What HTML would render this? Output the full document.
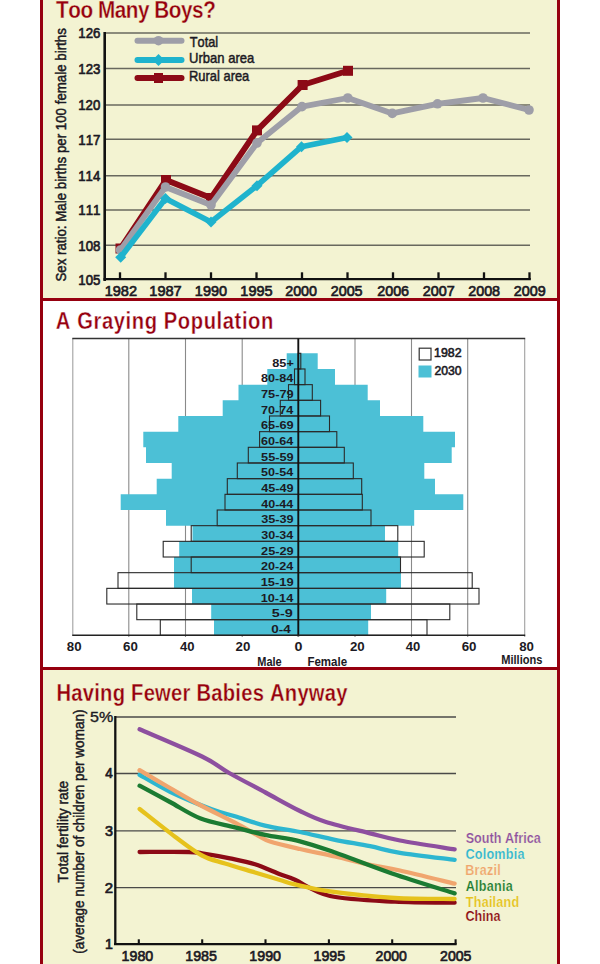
<!DOCTYPE html>
<html><head><meta charset="utf-8"><style>
html,body{margin:0;padding:0;background:#fff;}
svg{display:block;font-family:"Liberation Sans",sans-serif;font-kerning:none;}
</style></head><body>
<svg width="600" height="964" viewBox="0 0 600 964">
<rect x="0" y="0" width="600" height="964" fill="#fff"/>
<rect x="43.00" y="0.00" width="514.00" height="298.00" fill="#f3f3d2"/>
<rect x="43.00" y="670.00" width="514.00" height="294.00" fill="#f3f3d2"/>
<rect x="40.00" y="0.00" width="3.00" height="964.00" fill="#96000f"/>
<rect x="557.00" y="0.00" width="3.00" height="964.00" fill="#96000f"/>
<rect x="40.00" y="298.00" width="520.00" height="3.00" fill="#96000f"/>
<rect x="40.00" y="667.00" width="520.00" height="3.00" fill="#96000f"/>
<text transform="translate(56.07,18.00) scale(0.87,1)" x="0" y="0" font-size="23.80" font-weight="bold" fill="#96000f" letter-spacing="-0.516" stroke="#f3f3d2" stroke-width="0.35">Too Many Boys?</text>
<line x1="105.00" y1="33.10" x2="530.00" y2="33.10" stroke="#68685e" stroke-width="1.5"/>
<line x1="105.00" y1="68.50" x2="530.00" y2="68.50" stroke="#68685e" stroke-width="1.5"/>
<line x1="105.00" y1="105.00" x2="530.00" y2="105.00" stroke="#68685e" stroke-width="1.5"/>
<line x1="105.00" y1="139.20" x2="530.00" y2="139.20" stroke="#68685e" stroke-width="1.5"/>
<line x1="105.00" y1="175.80" x2="530.00" y2="175.80" stroke="#68685e" stroke-width="1.5"/>
<line x1="105.00" y1="210.00" x2="530.00" y2="210.00" stroke="#68685e" stroke-width="1.5"/>
<line x1="105.00" y1="245.20" x2="530.00" y2="245.20" stroke="#68685e" stroke-width="1.5"/>
<text x="78.29" y="38.40" font-size="15.40" font-weight="normal" fill="#1c1a24" textLength="22.09" lengthAdjust="spacingAndGlyphs" stroke="#1c1a24" stroke-width="0.7">126</text>
<text x="78.29" y="73.80" font-size="15.40" font-weight="normal" fill="#1c1a24" textLength="22.09" lengthAdjust="spacingAndGlyphs" stroke="#1c1a24" stroke-width="0.7">123</text>
<text x="78.29" y="110.30" font-size="15.40" font-weight="normal" fill="#1c1a24" textLength="22.02" lengthAdjust="spacingAndGlyphs" stroke="#1c1a24" stroke-width="0.7">120</text>
<text x="78.29" y="144.50" font-size="15.40" font-weight="normal" fill="#1c1a24" textLength="22.18" lengthAdjust="spacingAndGlyphs" stroke="#1c1a24" stroke-width="0.7">117</text>
<text x="78.30" y="181.10" font-size="15.40" font-weight="normal" fill="#1c1a24" textLength="21.88" lengthAdjust="spacingAndGlyphs" stroke="#1c1a24" stroke-width="0.7">114</text>
<text x="78.29" y="215.30" font-size="15.40" font-weight="normal" fill="#1c1a24" textLength="22.16" lengthAdjust="spacingAndGlyphs" stroke="#1c1a24" stroke-width="0.7">111</text>
<text x="78.29" y="250.50" font-size="15.40" font-weight="normal" fill="#1c1a24" textLength="22.08" lengthAdjust="spacingAndGlyphs" stroke="#1c1a24" stroke-width="0.7">108</text>
<text x="78.29" y="284.80" font-size="15.40" font-weight="normal" fill="#1c1a24" textLength="22.06" lengthAdjust="spacingAndGlyphs" stroke="#1c1a24" stroke-width="0.7">105</text>
<line x1="104.70" y1="32.00" x2="104.70" y2="281.00" stroke="#111" stroke-width="2.6"/>
<line x1="103.50" y1="279.20" x2="530.80" y2="279.20" stroke="#111" stroke-width="2.2"/>
<line x1="120.00" y1="272.30" x2="120.00" y2="279.50" stroke="#111" stroke-width="2.3"/>
<text x="104.64" y="296.20" font-size="15.00" font-weight="normal" fill="#1c1a24" textLength="32.34" lengthAdjust="spacingAndGlyphs" stroke="#1c1a24" stroke-width="0.7">1982</text>
<line x1="165.50" y1="272.30" x2="165.50" y2="279.50" stroke="#111" stroke-width="2.3"/>
<text x="149.34" y="296.20" font-size="15.00" font-weight="normal" fill="#1c1a24" textLength="32.34" lengthAdjust="spacingAndGlyphs" stroke="#1c1a24" stroke-width="0.7">1987</text>
<line x1="211.00" y1="272.30" x2="211.00" y2="279.50" stroke="#111" stroke-width="2.3"/>
<text x="194.85" y="296.20" font-size="15.00" font-weight="normal" fill="#1c1a24" textLength="32.17" lengthAdjust="spacingAndGlyphs" stroke="#1c1a24" stroke-width="0.7">1990</text>
<line x1="256.50" y1="272.30" x2="256.50" y2="279.50" stroke="#111" stroke-width="2.3"/>
<text x="240.35" y="296.20" font-size="15.00" font-weight="normal" fill="#1c1a24" textLength="32.21" lengthAdjust="spacingAndGlyphs" stroke="#1c1a24" stroke-width="0.7">1995</text>
<line x1="302.00" y1="272.30" x2="302.00" y2="279.50" stroke="#111" stroke-width="2.3"/>
<text x="285.23" y="296.20" font-size="15.00" font-weight="normal" fill="#1c1a24" textLength="31.78" lengthAdjust="spacingAndGlyphs" stroke="#1c1a24" stroke-width="0.7">2000</text>
<line x1="347.50" y1="272.30" x2="347.50" y2="279.50" stroke="#111" stroke-width="2.3"/>
<text x="330.73" y="296.20" font-size="15.00" font-weight="normal" fill="#1c1a24" textLength="31.82" lengthAdjust="spacingAndGlyphs" stroke="#1c1a24" stroke-width="0.7">2005</text>
<line x1="393.00" y1="272.30" x2="393.00" y2="279.50" stroke="#111" stroke-width="2.3"/>
<text x="377.23" y="296.20" font-size="15.00" font-weight="normal" fill="#1c1a24" textLength="31.85" lengthAdjust="spacingAndGlyphs" stroke="#1c1a24" stroke-width="0.7">2006</text>
<line x1="438.50" y1="272.30" x2="438.50" y2="279.50" stroke="#111" stroke-width="2.3"/>
<text x="422.73" y="296.20" font-size="15.00" font-weight="normal" fill="#1c1a24" textLength="31.94" lengthAdjust="spacingAndGlyphs" stroke="#1c1a24" stroke-width="0.7">2007</text>
<line x1="484.00" y1="272.30" x2="484.00" y2="279.50" stroke="#111" stroke-width="2.3"/>
<text x="468.23" y="296.20" font-size="15.00" font-weight="normal" fill="#1c1a24" textLength="31.84" lengthAdjust="spacingAndGlyphs" stroke="#1c1a24" stroke-width="0.7">2008</text>
<line x1="529.50" y1="272.30" x2="529.50" y2="279.50" stroke="#111" stroke-width="2.3"/>
<text x="513.73" y="296.20" font-size="15.00" font-weight="normal" fill="#1c1a24" textLength="31.90" lengthAdjust="spacingAndGlyphs" stroke="#1c1a24" stroke-width="0.7">2009</text>
<text transform="translate(65.80,281.00) rotate(-90)" x="-0.60" y="0" font-size="15.00" font-weight="normal" fill="#1c1a24" textLength="253.38" lengthAdjust="spacingAndGlyphs" stroke="#1c1a24" stroke-width="0.5">Sex ratio: Male births per 100 female births</text>
<polyline points="120.5,248.5 166.0,180.0 211.0,198.0 257.0,130.4 302.6,85.0 348.0,70.8" fill="none" stroke="#8c0a16" stroke-width="5.9" stroke-linejoin="round" stroke-linecap="round"/>
<rect x="115.50" y="243.50" width="10.00" height="10.00" fill="#8c0a16"/>
<rect x="161.00" y="175.00" width="10.00" height="10.00" fill="#8c0a16"/>
<rect x="206.00" y="193.00" width="10.00" height="10.00" fill="#8c0a16"/>
<rect x="252.00" y="125.40" width="10.00" height="10.00" fill="#8c0a16"/>
<rect x="297.60" y="80.00" width="10.00" height="10.00" fill="#8c0a16"/>
<rect x="343.00" y="65.80" width="10.00" height="10.00" fill="#8c0a16"/>
<polyline points="120.5,250.0 165.5,187.0 211.0,205.0 257.0,143.0 302.0,106.6 347.8,98.0 392.3,113.4 437.5,103.8 483.0,98.0 529.0,110.0" fill="none" stroke="#9e9ea8" stroke-width="5.8" stroke-linejoin="round" stroke-linecap="round"/>
<circle cx="120.5" cy="250" r="4.8" fill="#9e9ea8"/>
<circle cx="165.5" cy="187" r="4.8" fill="#9e9ea8"/>
<circle cx="211" cy="205" r="4.8" fill="#9e9ea8"/>
<circle cx="257" cy="143" r="4.8" fill="#9e9ea8"/>
<circle cx="302" cy="106.6" r="4.8" fill="#9e9ea8"/>
<circle cx="347.8" cy="98" r="4.8" fill="#9e9ea8"/>
<circle cx="392.3" cy="113.4" r="4.8" fill="#9e9ea8"/>
<circle cx="437.5" cy="103.8" r="4.8" fill="#9e9ea8"/>
<circle cx="483" cy="98" r="4.8" fill="#9e9ea8"/>
<circle cx="529" cy="110" r="4.8" fill="#9e9ea8"/>
<polyline points="120.7,257.3 165.5,198.5 211.0,222.0 257.0,185.7 301.5,146.7 347.0,137.6" fill="none" stroke="#1fb3cd" stroke-width="5.6" stroke-linejoin="round" stroke-linecap="round"/>
<path d="M120.7 251.8 L126.2 257.3 L120.7 262.8 L115.2 257.3 Z" fill="#1fb3cd"/>
<path d="M165.5 193.0 L171.0 198.5 L165.5 204.0 L160.0 198.5 Z" fill="#1fb3cd"/>
<path d="M211 216.5 L216.5 222 L211 227.5 L205.5 222 Z" fill="#1fb3cd"/>
<path d="M257 180.2 L262.5 185.7 L257 191.2 L251.5 185.7 Z" fill="#1fb3cd"/>
<path d="M301.5 141.2 L307.0 146.7 L301.5 152.2 L296.0 146.7 Z" fill="#1fb3cd"/>
<path d="M347 132.1 L352.5 137.6 L347 143.1 L341.5 137.6 Z" fill="#1fb3cd"/>
<polyline points="137.5,40.7 181.5,40.7" fill="none" stroke="#9e9ea8" stroke-width="6" stroke-linejoin="round" stroke-linecap="round"/>
<circle cx="158.5" cy="40.7" r="4.8" fill="#9e9ea8"/>
<polyline points="137.5,60.0 181.5,60.0" fill="none" stroke="#1fb3cd" stroke-width="6" stroke-linejoin="round" stroke-linecap="round"/>
<path d="M158.5 54 L164.5 60 L158.5 66 L152.5 60 Z" fill="#1fb3cd"/>
<polyline points="137.5,78.0 181.5,78.0" fill="none" stroke="#8c0a16" stroke-width="6" stroke-linejoin="round" stroke-linecap="round"/>
<rect x="154.00" y="73.00" width="9.00" height="10.00" fill="#8c0a16"/>
<text x="189.81" y="46.70" font-size="15.00" font-weight="normal" fill="#1c1a24" textLength="28.34" lengthAdjust="spacingAndGlyphs" stroke="#1c1a24" stroke-width="0.5">Total</text>
<text x="189.09" y="63.30" font-size="15.00" font-weight="normal" fill="#1c1a24" textLength="65.21" lengthAdjust="spacingAndGlyphs" stroke="#1c1a24" stroke-width="0.5">Urban area</text>
<text x="189.04" y="81.30" font-size="15.00" font-weight="normal" fill="#1c1a24" textLength="60.26" lengthAdjust="spacingAndGlyphs" stroke="#1c1a24" stroke-width="0.5">Rural area</text>
<text transform="translate(55.80,329.20) scale(0.87,1)" x="0" y="0" font-size="23.20" font-weight="bold" fill="#96000f" letter-spacing="0.685" stroke="#ffffff" stroke-width="0.35">A Graying Population</text>
<line x1="128.80" y1="338.40" x2="128.80" y2="637.00" stroke="#8a8a8a" stroke-width="1.1"/>
<line x1="185.50" y1="338.40" x2="185.50" y2="637.00" stroke="#8a8a8a" stroke-width="1.1"/>
<line x1="242.20" y1="338.40" x2="242.20" y2="637.00" stroke="#8a8a8a" stroke-width="1.1"/>
<line x1="355.00" y1="338.40" x2="355.00" y2="637.00" stroke="#8a8a8a" stroke-width="1.1"/>
<line x1="411.50" y1="338.40" x2="411.50" y2="637.00" stroke="#8a8a8a" stroke-width="1.1"/>
<line x1="467.70" y1="338.40" x2="467.70" y2="637.00" stroke="#8a8a8a" stroke-width="1.1"/>
<line x1="72.80" y1="338.40" x2="72.80" y2="636.00" stroke="#a0a0a0" stroke-width="1.1"/>
<line x1="524.70" y1="338.40" x2="524.70" y2="637.00" stroke="#a0a0a0" stroke-width="1.1"/>
<line x1="72.30" y1="338.40" x2="525.20" y2="338.40" stroke="#333" stroke-width="1.5"/>
<path d="M286.70,353.30H317.70V368.97H286.70ZM267.30,368.97H335.00V384.64H267.30ZM238.50,384.64H367.70V400.31H238.50ZM222.70,400.31H380.00V415.98H222.70ZM178.30,415.98H423.30V431.65H178.30ZM143.30,431.65H455.00V447.32H143.30ZM146.00,447.32H451.70V462.99H146.00ZM171.70,462.99H424.30V478.66H171.70ZM156.70,478.66H435.00V494.33H156.70ZM120.70,494.33H463.30V510.00H120.70ZM166.00,510.00H414.20V525.67H166.00ZM192.50,525.67H385.00V541.34H192.50ZM179.20,541.34H398.20V557.01H179.20ZM174.00,557.01H401.00V572.68H174.00ZM174.00,572.68H401.00V588.35H174.00ZM192.00,588.35H386.20V604.02H192.00ZM211.20,604.02H371.00V619.69H211.20ZM214.00,619.69H368.20V635.36H214.00Z" fill="#4cc0d6"/>
<rect x="298.30" y="353.30" width="2.50" height="15.67" fill="none" stroke="#2a2a2a" stroke-width="1.1"/>
<rect x="294.50" y="368.97" width="10.50" height="15.67" fill="none" stroke="#2a2a2a" stroke-width="1.1"/>
<rect x="288.50" y="384.64" width="23.80" height="15.67" fill="none" stroke="#2a2a2a" stroke-width="1.1"/>
<rect x="280.30" y="400.31" width="40.30" height="15.67" fill="none" stroke="#2a2a2a" stroke-width="1.1"/>
<rect x="269.50" y="415.98" width="60.00" height="15.67" fill="none" stroke="#2a2a2a" stroke-width="1.1"/>
<rect x="259.60" y="431.65" width="77.20" height="15.67" fill="none" stroke="#2a2a2a" stroke-width="1.1"/>
<rect x="248.30" y="447.32" width="96.00" height="15.67" fill="none" stroke="#2a2a2a" stroke-width="1.1"/>
<rect x="237.30" y="462.99" width="116.00" height="15.67" fill="none" stroke="#2a2a2a" stroke-width="1.1"/>
<rect x="227.30" y="478.66" width="134.40" height="15.67" fill="none" stroke="#2a2a2a" stroke-width="1.1"/>
<rect x="225.00" y="494.33" width="137.30" height="15.67" fill="none" stroke="#2a2a2a" stroke-width="1.1"/>
<rect x="217.20" y="510.00" width="153.80" height="15.67" fill="none" stroke="#2a2a2a" stroke-width="1.1"/>
<rect x="191.20" y="525.67" width="206.60" height="15.67" fill="none" stroke="#2a2a2a" stroke-width="1.1"/>
<rect x="163.20" y="541.34" width="261.00" height="15.67" fill="none" stroke="#2a2a2a" stroke-width="1.1"/>
<rect x="191.20" y="557.01" width="209.30" height="15.67" fill="none" stroke="#2a2a2a" stroke-width="1.1"/>
<rect x="118.00" y="572.68" width="354.20" height="15.67" fill="none" stroke="#2a2a2a" stroke-width="1.1"/>
<rect x="106.80" y="588.35" width="372.20" height="15.67" fill="none" stroke="#2a2a2a" stroke-width="1.1"/>
<rect x="136.80" y="604.02" width="313.00" height="15.67" fill="none" stroke="#2a2a2a" stroke-width="1.1"/>
<rect x="160.30" y="619.69" width="266.70" height="15.67" fill="none" stroke="#2a2a2a" stroke-width="1.1"/>
<line x1="298.30" y1="338.40" x2="298.30" y2="636.50" stroke="#111" stroke-width="1.9"/>
<line x1="72.30" y1="635.20" x2="525.20" y2="635.20" stroke="#222" stroke-width="1.4"/>
<text x="272.30" y="366.62" font-size="11.70" font-weight="bold" fill="#1c1a24" textLength="21.52" lengthAdjust="spacingAndGlyphs">85+</text>
<text x="261.10" y="382.29" font-size="11.70" font-weight="bold" fill="#1c1a24" textLength="32.17" lengthAdjust="spacingAndGlyphs">80-84</text>
<text x="260.95" y="397.96" font-size="11.70" font-weight="bold" fill="#1c1a24" textLength="32.72" lengthAdjust="spacingAndGlyphs">75-79</text>
<text x="260.96" y="413.63" font-size="11.70" font-weight="bold" fill="#1c1a24" textLength="32.31" lengthAdjust="spacingAndGlyphs">70-74</text>
<text x="261.03" y="429.30" font-size="11.70" font-weight="bold" fill="#1c1a24" textLength="32.64" lengthAdjust="spacingAndGlyphs">65-69</text>
<text x="261.04" y="444.97" font-size="11.70" font-weight="bold" fill="#1c1a24" textLength="32.23" lengthAdjust="spacingAndGlyphs">60-64</text>
<text x="261.11" y="460.64" font-size="11.70" font-weight="bold" fill="#1c1a24" textLength="32.56" lengthAdjust="spacingAndGlyphs">55-59</text>
<text x="261.11" y="476.31" font-size="11.70" font-weight="bold" fill="#1c1a24" textLength="32.15" lengthAdjust="spacingAndGlyphs">50-54</text>
<text x="261.31" y="491.98" font-size="11.70" font-weight="bold" fill="#1c1a24" textLength="32.36" lengthAdjust="spacingAndGlyphs">45-49</text>
<text x="261.31" y="507.65" font-size="11.70" font-weight="bold" fill="#1c1a24" textLength="31.96" lengthAdjust="spacingAndGlyphs">40-44</text>
<text x="261.21" y="523.32" font-size="11.70" font-weight="bold" fill="#1c1a24" textLength="32.46" lengthAdjust="spacingAndGlyphs">35-39</text>
<text x="261.21" y="538.99" font-size="11.70" font-weight="bold" fill="#1c1a24" textLength="32.05" lengthAdjust="spacingAndGlyphs">30-34</text>
<text x="261.06" y="554.66" font-size="11.70" font-weight="bold" fill="#1c1a24" textLength="32.62" lengthAdjust="spacingAndGlyphs">25-29</text>
<text x="261.06" y="570.33" font-size="11.70" font-weight="bold" fill="#1c1a24" textLength="32.20" lengthAdjust="spacingAndGlyphs">20-24</text>
<text x="260.69" y="586.00" font-size="11.70" font-weight="bold" fill="#1c1a24" textLength="32.99" lengthAdjust="spacingAndGlyphs">15-19</text>
<text x="260.70" y="601.67" font-size="11.70" font-weight="bold" fill="#1c1a24" textLength="32.57" lengthAdjust="spacingAndGlyphs">10-14</text>
<text x="271.86" y="617.34" font-size="11.70" font-weight="bold" fill="#1c1a24" textLength="20.88" lengthAdjust="spacingAndGlyphs">5-9</text>
<text x="271.27" y="633.01" font-size="11.70" font-weight="bold" fill="#1c1a24" textLength="19.51" lengthAdjust="spacingAndGlyphs">0-4</text>
<rect x="419.2" y="348.2" width="11.8" height="11.8" fill="#fff" stroke="#333" stroke-width="1.2"/>
<rect x="418.50" y="365.50" width="13.00" height="12.00" fill="#4cc0d6"/>
<text x="434.06" y="356.60" font-size="12.60" font-weight="normal" fill="#1c1a24" textLength="27.57" lengthAdjust="spacingAndGlyphs" stroke="#1c1a24" stroke-width="0.6">1982</text>
<text x="434.39" y="375.00" font-size="12.60" font-weight="normal" fill="#1c1a24" textLength="27.09" lengthAdjust="spacingAndGlyphs" stroke="#1c1a24" stroke-width="0.6">2030</text>
<text x="66.88" y="651.30" font-size="12.60" font-weight="bold" fill="#1c1a24" textLength="14.77" lengthAdjust="spacingAndGlyphs">80</text>
<text x="123.01" y="651.30" font-size="12.60" font-weight="bold" fill="#1c1a24" textLength="14.84" lengthAdjust="spacingAndGlyphs">60</text>
<text x="180.00" y="651.30" font-size="12.60" font-weight="bold" fill="#1c1a24" textLength="14.53" lengthAdjust="spacingAndGlyphs">40</text>
<text x="235.54" y="651.30" font-size="12.60" font-weight="bold" fill="#1c1a24" textLength="14.81" lengthAdjust="spacingAndGlyphs">20</text>
<text x="294.63" y="651.30" font-size="12.60" font-weight="bold" fill="#1c1a24" textLength="7.95" lengthAdjust="spacingAndGlyphs">0</text>
<text x="349.94" y="651.30" font-size="12.60" font-weight="bold" fill="#1c1a24" textLength="14.81" lengthAdjust="spacingAndGlyphs">20</text>
<text x="405.80" y="651.30" font-size="12.60" font-weight="bold" fill="#1c1a24" textLength="14.53" lengthAdjust="spacingAndGlyphs">40</text>
<text x="461.71" y="651.30" font-size="12.60" font-weight="bold" fill="#1c1a24" textLength="14.84" lengthAdjust="spacingAndGlyphs">60</text>
<text x="519.18" y="651.30" font-size="12.60" font-weight="bold" fill="#1c1a24" textLength="14.77" lengthAdjust="spacingAndGlyphs">80</text>
<text x="257.27" y="665.50" font-size="12.60" font-weight="bold" fill="#1c1a24" textLength="24.41" lengthAdjust="spacingAndGlyphs">Male</text>
<text x="307.43" y="665.50" font-size="12.60" font-weight="bold" fill="#1c1a24" textLength="39.66" lengthAdjust="spacingAndGlyphs">Female</text>
<text x="501.26" y="663.60" font-size="12.60" font-weight="bold" fill="#1c1a24" textLength="41.19" lengthAdjust="spacingAndGlyphs">Millions</text>
<text transform="translate(56.45,701.00) scale(0.87,1)" x="0" y="0" font-size="23.20" font-weight="bold" fill="#96000f" letter-spacing="0.287" stroke="#f3f3d2" stroke-width="0.35">Having Fewer Babies Anyway</text>
<line x1="116.00" y1="717.00" x2="456.00" y2="717.00" stroke="#4a4a48" stroke-width="1.3"/>
<line x1="116.00" y1="773.50" x2="456.00" y2="773.50" stroke="#4a4a48" stroke-width="1.3"/>
<line x1="116.00" y1="830.80" x2="456.00" y2="830.80" stroke="#4a4a48" stroke-width="1.3"/>
<line x1="116.00" y1="887.70" x2="456.00" y2="887.70" stroke="#4a4a48" stroke-width="1.3"/>
<line x1="115.30" y1="716.00" x2="115.30" y2="945.00" stroke="#111" stroke-width="2.3"/>
<line x1="114.00" y1="944.10" x2="456.60" y2="944.10" stroke="#111" stroke-width="2.2"/>
<line x1="138.80" y1="939.30" x2="138.80" y2="944.50" stroke="#111" stroke-width="2.1"/>
<text x="121.62" y="961.00" font-size="15.00" font-weight="normal" fill="#1c1a24" textLength="31.64" lengthAdjust="spacingAndGlyphs" stroke="#1c1a24" stroke-width="0.7">1980</text>
<line x1="202.20" y1="939.30" x2="202.20" y2="944.50" stroke="#111" stroke-width="2.1"/>
<text x="185.22" y="961.00" font-size="15.00" font-weight="normal" fill="#1c1a24" textLength="31.68" lengthAdjust="spacingAndGlyphs" stroke="#1c1a24" stroke-width="0.7">1985</text>
<line x1="265.50" y1="939.30" x2="265.50" y2="944.50" stroke="#111" stroke-width="2.1"/>
<text x="249.32" y="961.00" font-size="15.00" font-weight="normal" fill="#1c1a24" textLength="31.64" lengthAdjust="spacingAndGlyphs" stroke="#1c1a24" stroke-width="0.7">1990</text>
<line x1="328.90" y1="939.30" x2="328.90" y2="944.50" stroke="#111" stroke-width="2.1"/>
<text x="313.52" y="961.00" font-size="15.00" font-weight="normal" fill="#1c1a24" textLength="31.68" lengthAdjust="spacingAndGlyphs" stroke="#1c1a24" stroke-width="0.7">1995</text>
<line x1="392.20" y1="939.30" x2="392.20" y2="944.50" stroke="#111" stroke-width="2.1"/>
<text x="375.59" y="961.00" font-size="15.00" font-weight="normal" fill="#1c1a24" textLength="31.26" lengthAdjust="spacingAndGlyphs" stroke="#1c1a24" stroke-width="0.7">2000</text>
<line x1="455.60" y1="939.30" x2="455.60" y2="944.50" stroke="#111" stroke-width="2.1"/>
<text x="440.09" y="961.00" font-size="15.00" font-weight="normal" fill="#1c1a24" textLength="31.30" lengthAdjust="spacingAndGlyphs" stroke="#1c1a24" stroke-width="0.7">2005</text>
<text x="90.06" y="722.00" font-size="14.00" font-weight="normal" fill="#1c1a24" textLength="23.22" lengthAdjust="spacingAndGlyphs" stroke="#1c1a24" stroke-width="0.35">5%</text>
<text x="105.19" y="778.30" font-size="14.00" font-weight="normal" fill="#1c1a24" textLength="7.51" lengthAdjust="spacingAndGlyphs" stroke="#1c1a24" stroke-width="0.7">4</text>
<text x="104.95" y="835.60" font-size="14.00" font-weight="normal" fill="#1c1a24" textLength="7.98" lengthAdjust="spacingAndGlyphs" stroke="#1c1a24" stroke-width="0.7">3</text>
<text x="104.75" y="892.50" font-size="14.00" font-weight="normal" fill="#1c1a24" textLength="8.30" lengthAdjust="spacingAndGlyphs" stroke="#1c1a24" stroke-width="0.7">2</text>
<text x="105.12" y="949.30" font-size="14.00" font-weight="normal" fill="#1c1a24" textLength="7.87" lengthAdjust="spacingAndGlyphs" stroke="#1c1a24" stroke-width="0.7">1</text>
<text transform="translate(68.20,882.30) rotate(-90)" x="-0.31" y="0" font-size="15.50" font-weight="normal" fill="#1c1a24" textLength="101.82" lengthAdjust="spacingAndGlyphs" stroke="#1c1a24" stroke-width="0.5">Total fertility rate</text>
<text transform="translate(83.70,953.00) rotate(-90)" x="-0.84" y="0" font-size="15.50" font-weight="normal" fill="#1c1a24" textLength="244.28" lengthAdjust="spacingAndGlyphs" stroke="#1c1a24" stroke-width="0.5">(average number of children per woman)</text>
<path d="M139.60,852.00 C147.83,852.00 178.60,851.78 189.00,852.00 C199.40,852.22 195.17,852.25 202.00,853.30 C208.83,854.35 221.17,856.48 230.00,858.30 C238.83,860.12 246.67,861.55 255.00,864.20 C263.33,866.85 273.33,871.60 280.00,874.20 C286.67,876.80 286.67,876.17 295.00,879.80 C303.33,883.43 313.33,892.35 330.00,896.00 C346.67,899.65 374.23,900.58 395.00,901.70 C415.77,902.82 444.67,902.53 454.60,902.70" fill="none" stroke="#8c0a16" stroke-width="4.3" stroke-linejoin="round" stroke-linecap="round"/>
<path d="M139.60,809.00 C145.50,813.62 164.60,828.95 175.00,836.70 C185.40,844.45 193.67,851.03 202.00,855.50 C210.33,859.97 216.17,860.67 225.00,863.50 C233.83,866.33 245.83,869.75 255.00,872.50 C264.17,875.25 273.33,878.02 280.00,880.00 C286.67,881.98 286.67,882.50 295.00,884.40 C303.33,886.30 313.33,889.13 330.00,891.40 C346.67,893.67 374.23,896.73 395.00,898.00 C415.77,899.27 444.67,898.83 454.60,899.00" fill="none" stroke="#e6c21c" stroke-width="4.3" stroke-linejoin="round" stroke-linecap="round"/>
<path d="M139.60,774.80 C144.67,777.62 157.98,785.95 170.00,791.70 C182.02,797.45 200.87,805.20 211.70,809.30 C222.53,813.40 226.12,813.58 235.00,816.30 C243.88,819.02 254.17,822.98 265.00,825.60 C275.83,828.22 288.33,829.63 300.00,832.00 C311.67,834.37 323.33,837.43 335.00,839.80 C346.67,842.17 359.17,844.03 370.00,846.20 C380.83,848.37 385.90,850.53 400.00,852.80 C414.10,855.07 445.50,858.63 454.60,859.80" fill="none" stroke="#2db6d0" stroke-width="4.3" stroke-linejoin="round" stroke-linecap="round"/>
<path d="M139.60,770.20 C144.67,773.17 159.93,782.20 170.00,788.00 C180.07,793.80 189.17,799.22 200.00,805.00 C210.83,810.78 225.42,817.65 235.00,822.70 C244.58,827.75 251.67,832.17 257.50,835.30 C263.33,838.43 262.92,839.22 270.00,841.50 C277.08,843.78 289.17,846.50 300.00,849.00 C310.83,851.50 323.33,853.87 335.00,856.50 C346.67,859.13 359.17,862.47 370.00,864.80 C380.83,867.13 385.90,867.37 400.00,870.50 C414.10,873.63 445.50,881.42 454.60,883.60" fill="none" stroke="#f0a56e" stroke-width="4.3" stroke-linejoin="round" stroke-linecap="round"/>
<path d="M139.60,785.70 C144.67,788.42 159.93,796.58 170.00,802.00 C180.07,807.42 189.17,813.98 200.00,818.20 C210.83,822.42 224.17,824.52 235.00,827.30 C245.83,830.08 254.17,832.57 265.00,834.90 C275.83,837.23 288.33,838.37 300.00,841.30 C311.67,844.23 319.67,847.13 335.00,852.50 C350.33,857.87 372.07,866.68 392.00,873.50 C411.93,880.32 444.17,890.08 454.60,893.40" fill="none" stroke="#1b7b32" stroke-width="4.3" stroke-linejoin="round" stroke-linecap="round"/>
<path d="M139.60,729.30 C150.00,733.83 187.07,749.22 202.00,756.50 C216.93,763.78 218.62,767.00 229.20,773.00 C239.78,779.00 253.70,786.17 265.50,792.50 C277.30,798.83 289.92,806.08 300.00,811.00 C310.08,815.92 314.33,818.28 326.00,822.00 C337.67,825.72 357.67,830.22 370.00,833.30 C382.33,836.38 385.90,837.83 400.00,840.50 C414.10,843.17 445.50,847.83 454.60,849.30" fill="none" stroke="#8d4f9f" stroke-width="4.3" stroke-linejoin="round" stroke-linecap="round"/>
<text transform="translate(465.64,842.60) scale(0.9,1)" x="0" y="0" font-size="14.00" font-weight="bold" fill="#8d4f9f" letter-spacing="0.038" stroke="#f3f3d2" stroke-width="0.2">South Africa</text>
<text transform="translate(465.48,859.00) scale(0.9,1)" x="0" y="0" font-size="14.00" font-weight="bold" fill="#2db6d0" letter-spacing="0.260" stroke="#f3f3d2" stroke-width="0.2">Colombia</text>
<text transform="translate(465.16,875.00) scale(0.9,1)" x="0" y="0" font-size="14.00" font-weight="bold" fill="#f0a56e" letter-spacing="0.316" stroke="#f3f3d2" stroke-width="0.2">Brazil</text>
<text transform="translate(465.69,890.60) scale(0.9,1)" x="0" y="0" font-size="14.00" font-weight="bold" fill="#1b7b32" letter-spacing="0.319" stroke="#f3f3d2" stroke-width="0.2">Albania</text>
<text transform="translate(465.86,906.60) scale(0.9,1)" x="0" y="0" font-size="14.00" font-weight="bold" fill="#e6c21c" letter-spacing="0.249" stroke="#f3f3d2" stroke-width="0.2">Thailand</text>
<text transform="translate(465.48,920.60) scale(0.9,1)" x="0" y="0" font-size="14.00" font-weight="bold" fill="#8c0a16" letter-spacing="0.010" stroke="#f3f3d2" stroke-width="0.2">China</text>
</svg>
</body></html>
